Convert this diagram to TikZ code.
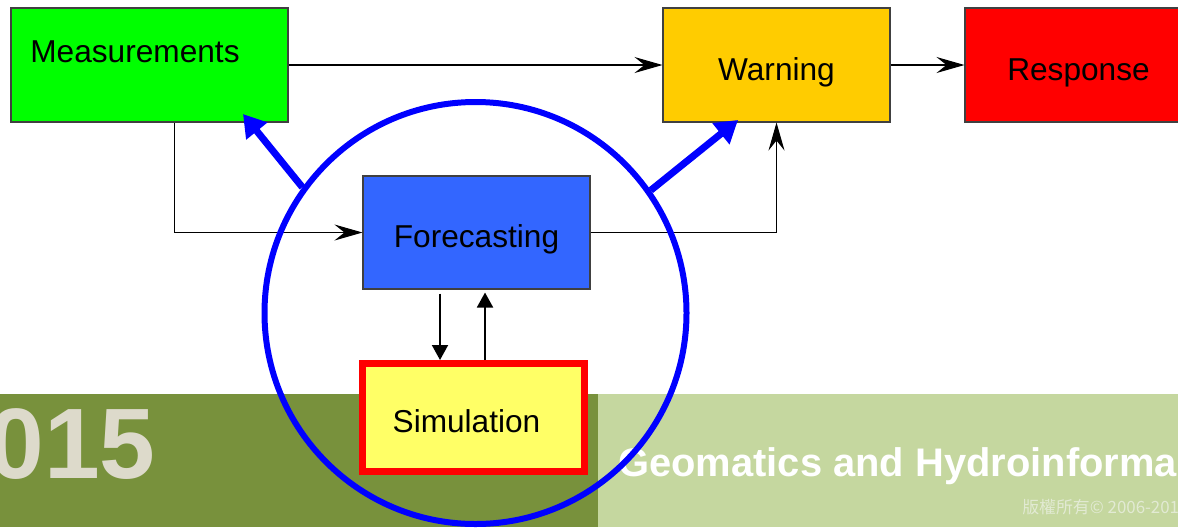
\documentclass[tikz,border=0pt]{standalone}
\usepackage{fontspec}
\setmainfont{Liberation Sans}
\newfontfamily\cjkfont{Noto Sans CJK TC}
\usetikzlibrary{arrows.meta, positioning}

\definecolor{measgreen}{HTML}{00FF00}
\definecolor{warnamber}{HTML}{FFCC00}
\definecolor{respred}{HTML}{FF0000}
\definecolor{foreblue}{HTML}{3366FF}
\definecolor{simyellow}{HTML}{FFFF66}
\definecolor{ringblue}{HTML}{0000FF}
\definecolor{banddark}{HTML}{78913C}
\definecolor{bandlight}{HTML}{C5D79F}
\definecolor{yearbeige}{HTML}{DDDACB}
\definecolor{notegrey}{HTML}{E2EAD3}

\tikzset{
  block/.style = {rectangle, draw = black!75, line width = 0.6pt, inner sep = 0pt,
                  minimum width = 45.4mm, minimum height = 22.8mm,
                  font = \fontsize{18}{20}\selectfont, text height = 6mm, text depth = 0pt},
  flow/.style  = {-{Stealth[length = 5.6mm, width = 3.2mm, inset = 2mm]}, line width = 0.6pt},
  link/.style  = {-{Triangle[length = 3mm, width = 3.2mm]}, line width = 1.1pt},
  feed/.style  = {-{Triangle[length = 4.4mm, width = 5.2mm]}, line width = 1.4mm, draw = ringblue}
}

\begin{document}
\begin{tikzpicture}[x = 0.2mm, y = -0.2mm]
\useasboundingbox (0,0) rectangle (1178,527);

% footer band
\fill [banddark] (0,394) rectangle (598,527);
\fill [bandlight] (598,394) rectangle (1178,527);
\node (year) [anchor = base west, inner sep = 0pt, text = yearbeige,
  font = \fontsize{57}{60}\selectfont\bfseries] at (-12,478) {015};
\node (title) [anchor = base west, inner sep = 0pt, text = white,
  font = \fontsize{22.7}{26}\selectfont\bfseries] at (618,476) {Geomatics and Hydroinforma};
\node (note) [anchor = base west, inner sep = 0pt, text = notegrey,
  font = \cjkfont\fontsize{9.6}{11}\selectfont] at (1022,513) {版權所有© 2006-201};

% boxes
\node (meas) [block, fill = measgreen, minimum width = 55.4mm,
  text height = 0pt, text depth = 1.2mm] at (149.5,65) {Measurements\kern5.8mm};
\node (warn) [block, fill = warnamber] at (776.5,65) {Warning};
\node (resp) [block, fill = respred] at (1078.5,65) {Response};
\node (fore) [block, fill = foreblue, minimum height = 22.6mm] at (476.5,232.5) {Forecasting};
\node (sim) [block, fill = simyellow, draw = respred, line width = 1.4mm,
  minimum width = 44.4mm, minimum height = 21.6mm] at (473.5,417.5) {Simulation\kern2.8mm};

% thin connectors
\draw [flow] (meas.east) -- (meas.east -| warn.west);
\draw [flow] (warn.east) -- (warn.east -| resp.west);
\draw [flow] ([xshift = 32.8mm]meas.south west) |- (fore.west);
\draw [flow] (fore.east) -| (warn.south);

\coordinate (down) at ([xshift = -7.3mm]fore.south);
\coordinate (up) at ([xshift = 1.7mm]fore.south);
\draw [link] ([yshift = -0.8mm]down) -- (down |- sim.north);
\draw [link] (up |- sim.north) -- ([yshift = -0.6mm]up);

% ring round forecasting and simulation
\node (ring) [circle, draw = ringblue, line width = 1.2mm, minimum size = 84.4mm,
  inner sep = 0pt] at (475.5,313) {};
\coordinate (meastip) at (243,114);
\coordinate (warntip) at (738,120);
\draw [feed] (ring.144) -- (meastip);
\draw [feed] (ring.35) -- (warntip);
\end{tikzpicture}
\end{document}
